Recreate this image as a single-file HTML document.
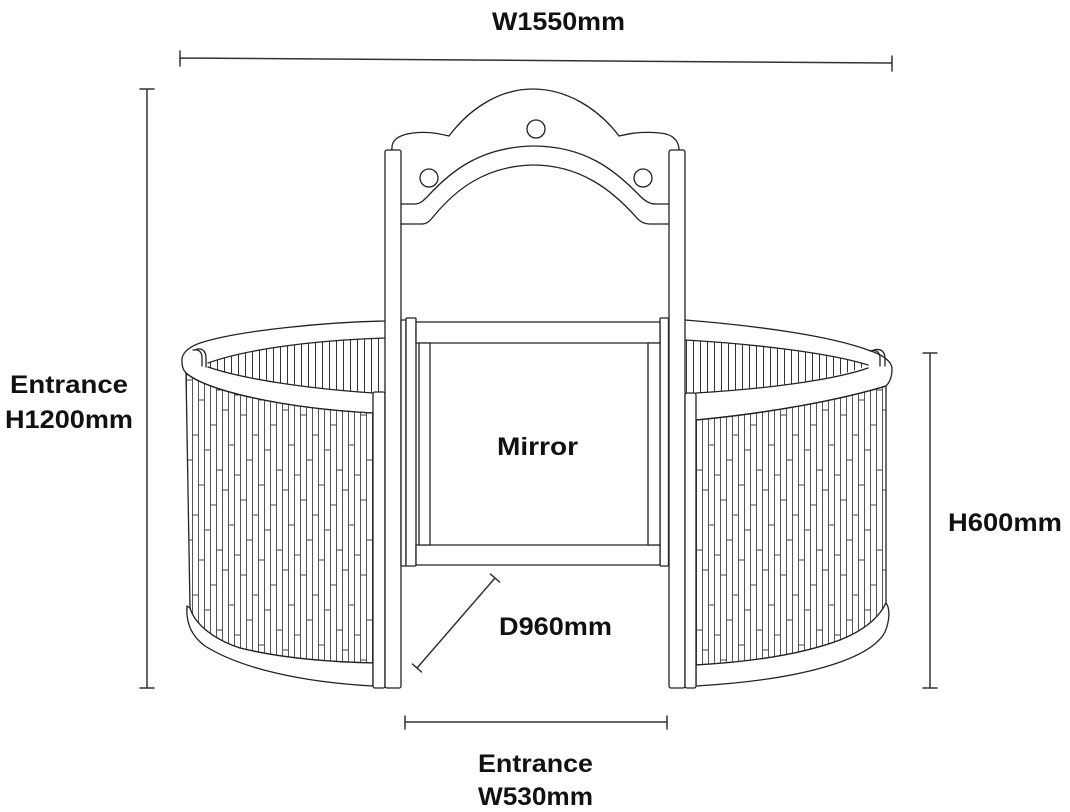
<!DOCTYPE html>
<html>
<head>
<meta charset="utf-8">
<style>
  html,body{margin:0;padding:0;background:#fff;}
  svg{display:block;}
  .t{font-family:"Liberation Sans","DejaVu Sans",sans-serif;font-weight:bold;font-size:25px;fill:#111;}
</style>
</head>
<body>
<svg width="1070" height="812" viewBox="0 0 1070 812" xmlns="http://www.w3.org/2000/svg">
  <defs>
    <pattern id="fb" patternUnits="userSpaceOnUse" width="60" height="160">
      <path d="M0.5 0V160M6.5 0V160M12.5 0V160M18.5 0V160M24.5 0V160M30.5 0V160M36.5 0V160M42.5 0V160M48.5 0V160M54.5 0V160
               M0.5 20h6M0.5 95h6M6.5 60h6M6.5 140h6M12.5 35h6M12.5 115h6M18.5 80h6M18.5 5h6M24.5 50h6M24.5 130h6
               M30.5 105h6M30.5 25h6M36.5 70h6M36.5 150h6M42.5 10h6M42.5 90h6M48.5 45h6M48.5 125h6M54.5 75h6M54.5 155h6"
            stroke="#444" stroke-width="0.9" fill="none"/>
    </pattern>
    <pattern id="bb" patternUnits="userSpaceOnUse" width="7" height="100">
      <path d="M0.5 0V100" stroke="#333" stroke-width="1"/>
    </pattern>
  </defs>

  <g fill="none" stroke="#222" stroke-width="1.3" stroke-linejoin="round" stroke-linecap="round">
    <!-- back bamboo (inside ring) -->
    <path d="M208,363 C250,348 320,340 386,338 L386,393 L373,393 C300,388 240,378 208,367 Z" fill="url(#bb)" stroke="none"/>
    <path d="M685,340 C755,344 830,353 868,365 C840,378 780,388 696,393 L685,393 Z" fill="url(#bb)" stroke="none"/>

    <!-- front bamboo panels -->
    <path d="M186,373 C205,390 280,408 373,413 L373,663 C330,662 280,658 240,648 C215,640 195,625 190,608 Z" fill="url(#fb)"/>
    <path d="M696,420 C770,413 840,400 886,386 L886,603 C878,620 860,632 840,640 C800,655 750,662 696,665 Z" fill="url(#fb)"/>

    <!-- left rim -->
    <path d="M386,321 C330,322 240,330 200,343 C186,348 181,355 182,362 C182,367 183,370 186,373 C205,390 280,408 373,413"/>
    <path d="M386,338 C320,340 250,348 208,363"/>
    <path d="M208,367 C240,378 300,388 373,393"/>
    <path d="M193,350 C199,349 202,352 202,358 L202,366"/>
    <path d="M197,349 C203,348 206,352 206,358 L206,367"/>

    <!-- right rim -->
    <path d="M685,320 C760,326 830,336 868,350 C884,355 892,362 892,369 C892,376 890,382 886,386 C840,400 770,413 696,420"/>
    <path d="M685,340 C755,344 830,353 868,365"/>
    <path d="M868,368 C840,378 780,388 696,393"/>
    <path d="M870,351 C876,349 880,352 880,358 L880,366"/>
    <path d="M874,350 C881,348 885,352 885,358 L885,366"/>

    <!-- bottom bands -->
    <path d="M190,608 C195,625 215,640 240,648 C280,658 330,662 373,663 L373,686 C300,682 240,668 205,646 C190,635 186,620 187,606 Z" fill="#fff"/>
    <path d="M696,665 C750,662 800,655 840,640 C860,632 878,620 886,603 C890,608 890,620 885,632 C870,660 800,680 696,686 Z" fill="#fff"/>

    <!-- posts -->
    <rect x="373" y="392" width="12" height="296" rx="2" fill="#fff"/>
    <rect x="385" y="150" width="16" height="538" rx="2" fill="#fff"/>
    <rect x="669" y="150" width="16" height="538" rx="2" fill="#fff"/>
    <rect x="685" y="393" width="11" height="295" rx="2" fill="#fff"/>

    <!-- arch top -->
    <path d="M392,150 C391,140 398,135 413,133 C428,131 440,134 449,136 C470,108 500,89 533,89 C566,89 598,108 619,136 C628,134 640,131 660,133 C673,134 679,141 679,150"/>
    <path d="M401,204 L415,204 C420,204 423,201 428,196 C450,172 480,147 533,146 C585,146 615,170 640,196 C645,201 650,204 655,204 L669,204"/>
    <path d="M401,224 L422,224 C426,224 429,222 433,217 C455,190 485,166 533,165 C580,165 612,190 636,217 C640,222 645,224 650,224 L669,224"/>
    <circle cx="536" cy="129" r="9"/>
    <circle cx="429" cy="178" r="9"/>
    <circle cx="643" cy="178" r="9"/>

    <!-- mirror frame -->
    <rect x="401" y="320" width="5" height="246" fill="#fff"/>
    <rect x="406" y="318" width="10" height="248" rx="1" fill="#fff"/>
    <rect x="660" y="318" width="8.5" height="248" rx="1" fill="#fff"/>
    <rect x="416" y="322" width="244" height="21" fill="#fff"/>
    <rect x="416" y="545" width="244" height="20" fill="#fff"/>
    <rect x="419" y="343" width="11" height="202" fill="#fff"/>
    <rect x="648" y="343" width="12" height="202" fill="#fff"/>
  </g>

  <!-- dimension lines -->
  <g fill="none" stroke="#333" stroke-width="1.5" stroke-linecap="round">
    <path d="M180,58 L892,63 M180,51 V66 M892,56 V71"/>
    <path d="M147,89 V688 M140,89 H154 M140,688 H154"/>
    <path d="M930,353 V688 M923,353 H937 M923,688 H937"/>
    <path d="M405,722 H667 M405,716 V729 M667,716 V729"/>
    <path d="M495,578 L417,668 M490.5,574.1 L499.5,581.9 M412.5,664.1 L421.5,671.9"/>
  </g>

  <!-- labels -->
  <text class="t" x="492" y="30" textLength="133" lengthAdjust="spacingAndGlyphs">W1550mm</text>
  <text class="t" x="10" y="393" textLength="118" lengthAdjust="spacingAndGlyphs">Entrance</text>
  <text class="t" x="5" y="428" textLength="128" lengthAdjust="spacingAndGlyphs">H1200mm</text>
  <text class="t" x="948" y="531" textLength="114" lengthAdjust="spacingAndGlyphs">H600mm</text>
  <text class="t" x="497" y="455" textLength="81" lengthAdjust="spacingAndGlyphs">Mirror</text>
  <text class="t" x="499" y="635" textLength="113" lengthAdjust="spacingAndGlyphs">D960mm</text>
  <text class="t" x="478" y="772" textLength="115" lengthAdjust="spacingAndGlyphs">Entrance</text>
  <text class="t" x="478" y="805" textLength="115" lengthAdjust="spacingAndGlyphs">W530mm</text>
</svg>
</body>
</html>
